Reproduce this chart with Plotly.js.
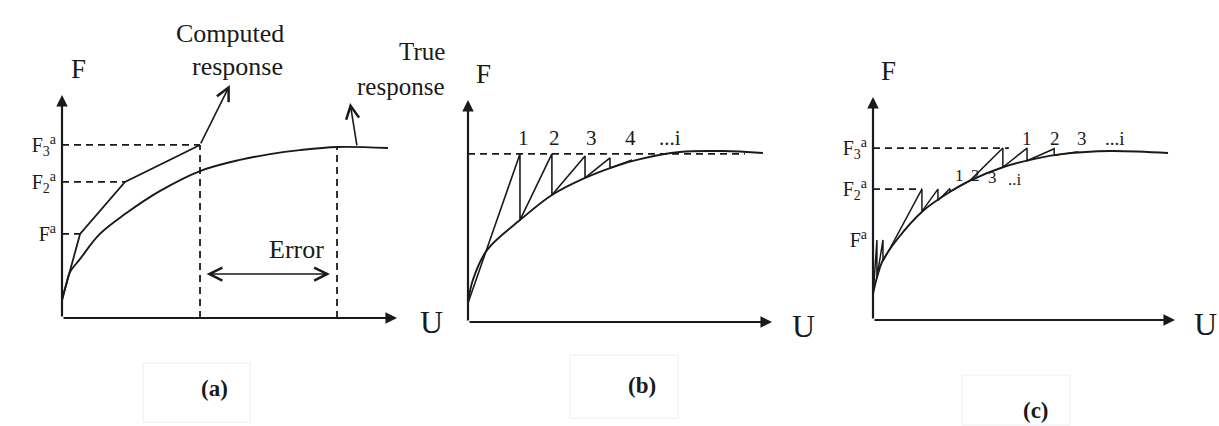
<!DOCTYPE html>
<html>
<head>
<meta charset="utf-8">
<script src="https://cdn.plot.ly/plotly-3.0.1.min.js"></script>
<style>
  html, body { margin: 0; padding: 0; background: #ffffff; }
  #chart { width: 1219px; height: 426px; }
</style>
</head>
<body>
<div id="chart"></div>
<script>
// ---- Panel (a): true response vs. computed (load-step) response ----
const trueA_U = [0, 0.012, 0.024, 0.054, 0.113, 0.188, 0.293, 0.412, 0.531, 0.621, 0.710, 0.821, 0.973];
const trueA_F = [0.081, 0.148, 0.206, 0.265, 0.377, 0.466, 0.570, 0.659, 0.709, 0.735, 0.753, 0.767, 0.762];
const compA_U = [0, 0.054, 0.188, 0.412];
const compA_F = [0.081, 0.377, 0.610, 0.776];
const levelsA = [0.377, 0.610, 0.776];
const levelLabelsA = ['F<sup>a</sup>', 'F<sub>2</sub><sup>a</sup>', 'F<sub>3</sub><sup>a</sup>'];
const errorFromU = 0.412;   // computed displacement at F3
const errorToU = 0.821;     // true displacement at F3
const errorArrowF = 0.197;

// ---- Panel (b): Newton-Raphson iterations at one load level ----
const trueB_U = [0, 0.016, 0.0625, 0.171, 0.276, 0.385, 0.477, 0.566, 0.697, 0.839, 0.970];
const trueB_F = [0.086, 0.189, 0.324, 0.459, 0.572, 0.649, 0.698, 0.734, 0.766, 0.770, 0.761];
const iterB_U = [0, 0.171, 0.171, 0.276, 0.276, 0.385, 0.385, 0.467, 0.467, 0.54];
const iterB_F = [0.086, 0.757, 0.459, 0.757, 0.572, 0.748, 0.649, 0.739, 0.694, 0.730];
const levelB = 0.757;
const levelB_end = 0.911;
const iterLabelsB = ['1', '2', '3', '4', '...i'];
const iterLabelsB_U = [0.181, 0.286, 0.405, 0.533, 0.665];
const iterLabelsB_F = 0.829;

// ---- Panel (c): incremental-iterative scheme ----
const trueC_U = [0, 0.013, 0.030, 0.079, 0.166, 0.255, 0.321, 0.430, 0.543, 0.629, 0.785, 0.977];
const trueC_F = [0.12, 0.19, 0.26, 0.36, 0.49, 0.575, 0.625, 0.685, 0.725, 0.745, 0.758, 0.749];
const iterC_U = [0, 0.013, 0.013, 0.033, 0.033, 0.060, 0.162, 0.162, 0.215, 0.215, 0.255, 0.255, 0.321, 0.430, 0.430, 0.510, 0.510, 0.600, 0.600, 0.680];
const iterC_F = [0.10, 0.359, 0.19, 0.359, 0.265, 0.33, 0.587, 0.487, 0.587, 0.536, 0.590, 0.575, 0.625, 0.771, 0.685, 0.771, 0.714, 0.768, 0.738, 0.754];
const levelsC = [0.359, 0.587, 0.771];
const levelLabelsC = ['F<sup>a</sup>', 'F<sub>2</sub><sup>a</sup>', 'F<sub>3</sub><sup>a</sup>'];
const dashEndsC = [0.162, 0.45];          // reach of the F2 and F3 guide lines
const stage2Labels = ['1', '2', '3', '..i'];
const stage2Labels_U = [0.288, 0.338, 0.397, 0.47];
const stage2Labels_F = [0.650, 0.650, 0.637, 0.632];
const stage3Labels = ['1', '2', '3', '...i'];
const stage3Labels_U = [0.51, 0.603, 0.692, 0.80];
const stage3Labels_F = 0.816;

const captions = ['(a)', '(b)', '(c)'];

// ---- styling ----
const INK = '#1a1a1a';
const SERIF = 'Liberation Serif, Times New Roman, serif';
const W = 1219, H = 426;

// panel frames in page pixels: origin (left, bottom), arrow tips (right, top),
// plus the visible U and F ranges around the unit axes
const frames = [
  { left: 62,  right: 397,  bottom: 318, top: 95,  u: [-0.05, 1.20], f: [-0.1, 1.35] },
  { left: 468, right: 772,  bottom: 322, top: 100, u: [-0.05, 1.20], f: [-0.1, 1.35] },
  { left: 873, right: 1175, bottom: 320, top: 97,  u: [-0.05, 1.14], f: [-0.1, 1.35] }
];

function lineTrace(xa, ya, u, f, opts) {
  return Object.assign({
    type: 'scatter', mode: 'lines', x: u, y: f,
    xaxis: xa, yaxis: ya, hoverinfo: 'skip', cliponaxis: false,
    line: { color: INK, width: 1.8 }
  }, opts || {});
}
function dashed(xa, ya, u, f) {
  return lineTrace(xa, ya, u, f, { line: { color: INK, width: 1.8, dash: '7px,5px' } });
}

const traces = [];
const spline = { color: INK, width: 1.9, shape: 'spline', smoothing: 1 };

// (a)
traces.push(lineTrace('x', 'y', trueA_U, trueA_F, { line: spline }));
traces.push(lineTrace('x', 'y', compA_U, compA_F));
(function () {
  const u = [], f = [];
  levelsA.forEach((lv, i) => { u.push(0, compA_U[i + 1], null); f.push(lv, lv, null); });
  u.push(errorFromU, errorFromU, null, errorToU, errorToU);
  f.push(0, compA_F[3], null, 0, trueA_F[11]);
  traces.push(dashed('x', 'y', u, f));
})();

// (b)
traces.push(lineTrace('x2', 'y2', trueB_U, trueB_F, { line: spline }));
traces.push(lineTrace('x2', 'y2', iterB_U, iterB_F, { line: { color: INK, width: 1.6 } }));
traces.push(dashed('x2', 'y2', [0, levelB_end], [levelB, levelB]));

// (c)
traces.push(lineTrace('x3', 'y3', trueC_U, trueC_F, { line: spline }));
traces.push(lineTrace('x3', 'y3', iterC_U, iterC_F, { line: { color: INK, width: 1.5 } }));
traces.push(dashed('x3', 'y3', [0, dashEndsC[0], null, 0, dashEndsC[1]], [levelsC[1], levelsC[1], null, levelsC[2], levelsC[2]]));

// ---- axes ----
const layout = {
  width: W, height: H,
  margin: { l: 0, r: 0, t: 0, b: 0 },
  paper_bgcolor: '#ffffff', plot_bgcolor: 'rgba(0,0,0,0)',
  showlegend: false,
  font: { family: SERIF, color: INK },
  annotations: [], shapes: []
};

const yTicks = [
  { vals: levelsA, text: levelLabelsA },
  { vals: [], text: [] },
  { vals: levelsC, text: levelLabelsC }
];

const txt = (xr, yr, x, y, t, size, extra) => Object.assign({
  xref: xr, yref: yr, x: x, y: y, text: t, showarrow: false,
  xanchor: 'center', yanchor: 'middle',
  font: { family: SERIF, size: size, color: INK }
}, extra || {});

// arrow drawn from (fromU, fromF) to (toU, toF) in a panel's data units
const pointer = (xr, yr, fromU, fromF, toU, toF, extra) => Object.assign({
  xref: xr, yref: yr, axref: xr, ayref: yr, x: toU, y: toF, ax: fromU, ay: fromF,
  text: '', showarrow: true, arrowhead: 5, arrowsize: 1.6, arrowwidth: 1.6,
  arrowcolor: INK, standoff: 0, startstandoff: 0
}, extra || {});

frames.forEach((fr, i) => {
  const sfx = i === 0 ? '' : String(i + 1);
  const xName = 'x' + sfx, yName = 'y' + sfx;
  const w = fr.right - fr.left, h = fr.bottom - fr.top;
  layout['xaxis' + sfx] = {
    domain: [(fr.left + fr.u[0] * w) / W, (fr.left + fr.u[1] * w) / W], range: fr.u, anchor: yName,
    showgrid: false, zeroline: false, showline: false, showticklabels: false, ticks: '', fixedrange: true
  };
  layout['yaxis' + sfx] = {
    domain: [1 - (fr.bottom - fr.f[0] * h) / H, 1 - (fr.bottom - fr.f[1] * h) / H], range: fr.f,
    anchor: 'free', position: fr.left / W,
    showgrid: false, zeroline: false, showline: false, ticks: '',
    tickmode: 'array', tickvals: yTicks[i].vals, ticktext: yTicks[i].text,
    showticklabels: yTicks[i].vals.length > 0, ticklabelstandoff: 6,
    tickfont: { family: SERIF, size: 20, color: INK }, fixedrange: true
  };
  // U and F axes as arrows out of the origin
  const axisStyle = { arrowhead: 2, arrowsize: 1.05, arrowwidth: 2.2 };
  layout.annotations.push(pointer(xName, yName, 0, 0, 1, 0, axisStyle));
  layout.annotations.push(pointer(xName, yName, 0, 0, 0, 1, axisStyle));
  layout.annotations.push(txt(xName, yName, 0.05, 1.115, 'F', 27));
  layout.annotations.push(txt(xName, yName, 1.102, -0.02, 'U', 32));
});

// (a) annotations
layout.annotations.push(
  txt('x', 'y', 0.501, 1.278, 'Computed', 26),
  txt('x', 'y', 0.525, 1.126, 'response', 26),
  txt('x', 'y', 1.149, 1.193, 'True', 25, { xanchor: 'right' }),
  txt('x', 'y', 1.145, 1.036, 'response', 25, { xanchor: 'right' }),
  txt('x', 'y', 0.70, 0.305, 'Error', 26),
  pointer('x', 'y', compA_U[3], compA_F[3], 0.501, 1.045),
  pointer('x', 'y', 0.881, trueA_F[11], 0.860, 0.964),
  pointer('x', 'y', errorFromU + 0.015, errorArrowF, errorToU - 0.021, errorArrowF, { arrowside: 'end+start' })
);

// (b) iteration numbers
iterLabelsB.forEach((t, i) => layout.annotations.push(txt('x2', 'y2', iterLabelsB_U[i], iterLabelsB_F, t, 21)));

// (c) iteration numbers for the second and third load steps
stage2Labels.forEach((t, i) => layout.annotations.push(txt('x3', 'y3', stage2Labels_U[i], stage2Labels_F[i], t, 17)));
stage3Labels.forEach((t, i) => layout.annotations.push(txt('x3', 'y3', stage3Labels_U[i], stage3Labels_F, t, 19)));

// panel captions, each in a faint frame
const captionPos = [[214, 388], [642, 385], [1036, 410]];
const captionBox = [[143, 363, 250, 422], [570, 355, 678, 418], [962, 375, 1070, 425]];
captions.forEach((c, i) => {
  layout.annotations.push(txt('paper', 'paper', captionPos[i][0] / W, 1 - captionPos[i][1] / H,
    '<b>' + c + '</b>', 23));
  const b = captionBox[i];
  layout.shapes.push({
    type: 'rect', xref: 'paper', yref: 'paper', layer: 'below',
    x0: b[0] / W, x1: b[2] / W, y0: 1 - b[3] / H, y1: 1 - b[1] / H,
    line: { color: '#eeeeee', width: 1 }
  });
});

Plotly.newPlot('chart', traces, layout, { staticPlot: true, displayModeBar: false });
</script>
</body>
</html>
